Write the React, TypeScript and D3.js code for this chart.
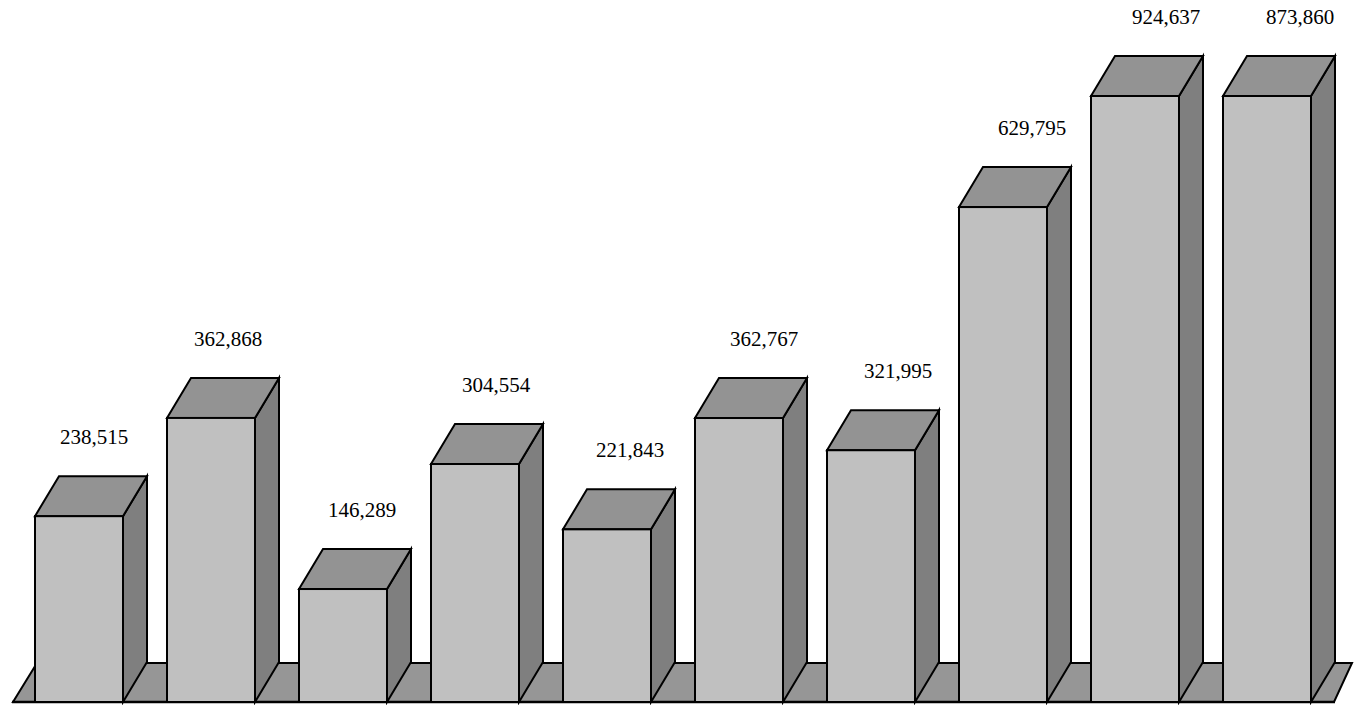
import React from "react";
import * as d3 from "d3";

const categories = ["1", "2", "3", "4", "5", "6", "7", "8", "9", "10"];
const values = [238515, 362868, 146289, 304554, 221843, 362767, 321995, 629795, 924637, 873860];

const W = 1357;
const H = 705;
const DX = 24;
const DY = 40;
const BASE = 702;

export default function App() {
  const x = d3
    .scaleBand<string>()
    .domain(categories)
    .range([35, 1311])
    .paddingInner(1 / 3)
    .paddingOuter(0);
  const bw = x.bandwidth();
  const y = d3.scaleLinear().domain([0, 770400]).range([704.6, 96]).clamp(true);
  const fmt = d3.format(",");

  const [r0, r1] = x.range();
  const floor = [
    [r0 - 22, BASE],
    [r1 + 23, BASE],
    [r1 + 41, BASE - 39],
    [r0 + 2, BASE - 39],
  ];
  const pts = (p: number[][]) => p.map((d) => d.join(",")).join(" ");

  return (
    <>
      <style>{`body{margin:0}`}</style>
      <svg width={W} height={H} style={{ display: "block", background: "#fff" }}>
        <polygon
          points={pts(floor)}
          fill="#969696"
          stroke="#000"
          strokeWidth={2}
          strokeLinejoin="miter"
        />
        <line x1={r0 - 23} x2={r1 + 24} y1={BASE} y2={BASE} stroke="#000" strokeWidth={2.5} />
        {categories.map((c, i) => {
          const x0 = x(c)!;
          const x1 = x0 + bw;
          const top = y(values[i]);
          const side = [
            [x1, BASE],
            [x1, top],
            [x1 + DX, top - DY],
            [x1 + DX, BASE - DY],
          ];
          const topFace = [
            [x0, top],
            [x0 + DX, top - DY],
            [x1 + DX, top - DY],
            [x1, top],
          ];
          const labelX = x0 + bw / 2 + 15 + 2 * i;
          const labelY = top - DY - 32;
          return (
            <g key={c}>
              <polygon points={pts(side)} fill="#7f7f7f" stroke="#000" strokeWidth={2} strokeLinejoin="miter" />
              <polygon points={pts(topFace)} fill="#939393" stroke="#000" strokeWidth={2} strokeLinejoin="miter" />
              <rect x={x0} y={top} width={bw} height={BASE - top} fill="#c0c0c0" stroke="#000" strokeWidth={2} />
              <text
                x={labelX}
                y={labelY}
                textAnchor="middle"
                fontFamily="'Liberation Serif', 'Times New Roman', serif"
                fontSize={21}
                fill="#000"
              >
                {fmt(values[i])}
              </text>
            </g>
          );
        })}
      </svg>
    </>
  );
}
